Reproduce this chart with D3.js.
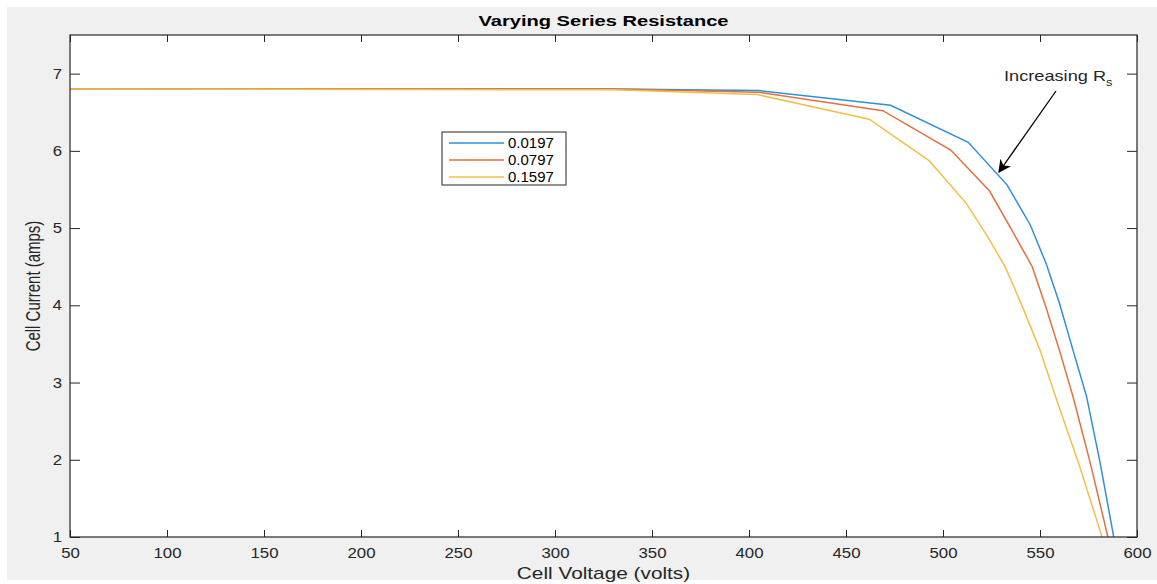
<!DOCTYPE html>
<html>
<head>
<meta charset="utf-8">
<script src="https://cdnjs.cloudflare.com/ajax/libs/d3/7.8.5/d3.min.js"></script>
<style>
  body { margin: 0; background: #fff; }
  text { font-family: "Liberation Sans", Arial, sans-serif; }
  .tick text { font-size: 14px; fill: #262626; transform-box: fill-box; transform-origin: center; transform: scaleX(1.2); }
  .yAxis .tick text { transform-origin: right center; }
  .tick line { stroke: #262626; }
  .domain { display: none; }
</style>
</head>
<body>
<div id="chart"></div>
<script>
// data: [voltage, current]
var seriesNames = ["0.0197", "0.0797", "0.1597"];
var seriesColors = ["#2f90d8", "#e3703f", "#f2c04a"];

var rs0197 = [[50, 6.8], [330, 6.8], [405, 6.78], [473, 6.59], [513, 6.11], [533, 5.56],
              [545, 5.04], [553, 4.55], [560, 4.03], [567, 3.42], [574, 2.82], [581, 1.96], [588, 1.0]];
var rs0797 = [[50, 6.8], [330, 6.8], [405, 6.76], [469, 6.52], [504, 6.01], [524, 5.48],
              [536, 4.95], [546, 4.5], [553, 3.98], [560, 3.42], [567, 2.82], [576, 1.95], [585, 1.0]];
var rs1597 = [[50, 6.8], [330, 6.79], [404, 6.73], [462, 6.41], [493, 5.87], [512, 5.32],
              [523, 4.89], [532, 4.5], [541, 3.98], [550, 3.42], [558, 2.82], [570, 1.95], [582, 1.0]];

var xTicks = [50, 100, 150, 200, 250, 300, 350, 400, 450, 500, 550, 600];
var yTicks = [1, 2, 3, 4, 5, 6, 7];

// set the dimensions and margins of the graph
var margin = {top: 35, right: 20, bottom: 47, left: 70},
    width = 1137 - margin.left,
    height = 537 - margin.top;

var x = d3.scaleLinear().domain([50, 600]).range([0, width]);
var y = d3.scaleLinear().domain([1, 7.5]).range([height, 0]);

var valueline = d3.line()
    .x(function(d) { return x(d[0]); })
    .y(function(d) { return y(d[1]); });

var base = d3.select("#chart").append("svg")
    .attr("width", 1157)
    .attr("height", 584);

// grey figure background
base.append("rect")
    .attr("x", 7).attr("y", 7)
    .attr("width", 1150).attr("height", 573)
    .attr("fill", "#f0f0f0");

var svg = base.append("g")
    .attr("transform", "translate(" + margin.left + "," + margin.top + ")");

svg.append("rect")
    .attr("width", width).attr("height", height)
    .attr("fill", "#fff");

svg.append("clipPath").attr("id", "clip")
  .append("rect").attr("width", width).attr("height", height);

// lines
var allSeries = [rs0197, rs0797, rs1597];
allSeries.forEach(function(s, i) {
  svg.append("path")
      .datum(s)
      .attr("clip-path", "url(#clip)")
      .attr("fill", "none")
      .attr("stroke", seriesColors[i])
      .attr("stroke-width", 1.5)
      .attr("d", valueline);
});

// axes, ticks inward on all four sides
svg.append("g")
    .attr("class", "xAxis")
    .attr("transform", "translate(0," + height + ")")
    .call(d3.axisBottom(x).tickValues(xTicks).tickSizeInner(-7).tickSizeOuter(0).tickPadding(11));
svg.append("g")
    .call(d3.axisTop(x).tickValues(xTicks).tickSizeInner(-7).tickSizeOuter(0).tickFormat(""));
svg.append("g")
    .attr("class", "yAxis")
    .call(d3.axisLeft(y).tickValues(yTicks).tickSizeInner(-10).tickSizeOuter(0)
        .tickPadding(8).tickFormat(d3.format("d")));
svg.append("g")
    .attr("transform", "translate(" + width + ",0)")
    .call(d3.axisRight(y).tickValues(yTicks).tickSizeInner(-10).tickSizeOuter(0).tickFormat(""));

svg.append("rect")
    .attr("width", width).attr("height", height)
    .attr("fill", "none")
    .attr("stroke", "#262626")
    .attr("stroke-width", 1.2);

// title and axis labels (the picture is stretched sideways, so the text is too)
base.append("text")
    .attr("transform", "translate(" + (margin.left + width / 2) + ",26) scale(1.34,1)")
    .attr("text-anchor", "middle")
    .style("font-size", "15px").style("font-weight", "bold")
    .attr("fill", "#000")
    .text("Varying Series Resistance");

base.append("text")
    .attr("transform", "translate(" + (margin.left + width / 2) + ",579) scale(1.3,1)")
    .attr("text-anchor", "middle")
    .style("font-size", "16px")
    .attr("fill", "#262626")
    .text("Cell Voltage (volts)");

base.append("text")
    .attr("transform", "translate(40," + (margin.top + height / 2) + ") rotate(-90) scale(1,1.3)")
    .attr("text-anchor", "middle")
    .style("font-size", "15px")
    .attr("fill", "#262626")
    .text("Cell Current (amps)");

// legend
var legend = base.append("g").attr("transform", "translate(442,132)");
legend.append("rect")
    .attr("width", 124).attr("height", 53)
    .attr("fill", "#fff")
    .attr("stroke", "#262626");
seriesNames.forEach(function(name, i) {
  legend.append("line")
      .attr("x1", 7).attr("x2", 62)
      .attr("y1", 11 + i * 17).attr("y2", 11 + i * 17)
      .attr("stroke", seriesColors[i])
      .attr("stroke-width", 1.5);
  legend.append("text")
      .attr("transform", "translate(66," + (16 + i * 17) + ") scale(1.07,1)")
      .style("font-size", "14px")
      .attr("fill", "#000")
      .text(name);
});

// annotation with arrow
base.append("defs").append("marker")
    .attr("id", "arrow")
    .attr("viewBox", "0 0 10 10")
    .attr("refX", 9).attr("refY", 5)
    .attr("markerWidth", 13).attr("markerHeight", 13)
    .attr("markerUnits", "userSpaceOnUse")
    .attr("orient", "auto")
  .append("path")
    .attr("d", "M0,0 L10,5 L0,10 L3,5 Z")
    .attr("fill", "#000");

base.append("line")
    .attr("x1", 1056).attr("y1", 91)
    .attr("x2", 999).attr("y2", 172)
    .attr("stroke", "#000")
    .attr("stroke-width", 1.3)
    .attr("marker-end", "url(#arrow)");

var note = base.append("text")
    .attr("transform", "translate(1004,81) scale(1.3,1)")
    .style("font-size", "14px")
    .attr("fill", "#262626")
    .text("Increasing R");
note.append("tspan")
    .attr("dy", 5)
    .style("font-size", "10px")
    .text("s");
</script>
</body>
</html>
